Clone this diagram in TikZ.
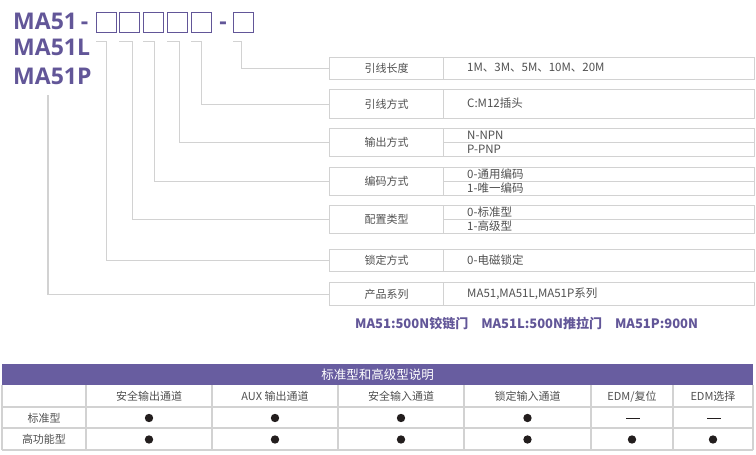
\documentclass[tikz,border=0pt]{standalone}
\usepackage{fontspec}
\setmainfont{Noto Sans CJK SC}
\newfontfamily\osans{Open Sans}
\definecolor{purp}{RGB}{98,86,152}
\definecolor{hdr}{RGB}{104,93,160}
\definecolor{lg}{RGB}{210,210,210}
\definecolor{tg}{RGB}{80,80,80}
\definecolor{dk}{RGB}{35,30,30}
\begin{document}
\begin{tikzpicture}[x=1pt,y=-1pt, font=\fontsize{11}{13}\selectfont,
  lbox/.style={draw=lg, line width=1.1pt, inner sep=0pt, anchor=north west, text=tg, minimum width=114pt},
  rbox/.style={draw=lg, line width=1.1pt, inner sep=0pt, anchor=north west, minimum width=311pt},
  conn/.style={draw=lg, line width=1.1pt},
  sq/.style={draw=purp, line width=1.1pt, minimum width=20pt, minimum height=20pt, inner sep=0pt, anchor=north west},
  val/.style={anchor=west, text=tg, inner sep=0pt, font=\fontsize{11.5}{13}\selectfont},
  ttl/.style={anchor=base west, inner sep=0pt, text=purp, font=\osans\bfseries\fontsize{23}{24}\selectfont},
  cell/.style={inner sep=0pt, text=tg},
  grid/.style={draw=lg, line width=1.2pt},
  dot/.style={fill=dk}]
\useasboundingbox (0,0) rectangle (756,455);
% title
\node[ttl] (t1) at (13,30) {MA51};
\node[ttl, anchor=base] (d1) at (84.5,30) {-};
\node[ttl] (t2) at (13,55) {MA51L};
\node[ttl] (t3) at (13,84) {MA51P};
\node[ttl, anchor=base] (d2) at (223,30) {-};
\node[sq] (s1) at (96,12) {};
\node[sq] (s2) at (119,12) {};
\node[sq] (s3) at (143,12) {};
\node[sq] (s4) at (167,12) {};
\node[sq] (s5) at (191,12) {};
\node[sq] (s6) at (233,12) {};
% boxes
\node[lbox, minimum height=22pt] (b1l) at (329,57) {引线长度};
\node[rbox, minimum height=22pt] (b1r) at (443,57) {};
\node[lbox, minimum height=29pt] (b2l) at (329,89) {引线方式};
\node[rbox, minimum height=29pt] (b2r) at (443,89) {};
\node[lbox, minimum height=28pt] (b3l) at (329,128) {输出方式};
\node[rbox, minimum height=28pt] (b3r) at (443,128) {};
\node[lbox, minimum height=28pt] (b4l) at (329,167) {编码方式};
\node[rbox, minimum height=28pt] (b4r) at (443,167) {};
\node[lbox, minimum height=28pt] (b5l) at (329,205) {配置类型};
\node[rbox, minimum height=28pt] (b5r) at (443,205) {};
\node[lbox, minimum height=22pt] (b6l) at (329,249) {锁定方式};
\node[rbox, minimum height=22pt] (b6r) at (443,249) {};
\node[lbox, minimum height=23pt] (b7l) at (329,282) {产品系列};
\node[rbox, minimum height=23pt] (b7r) at (443,282) {};
\draw[conn] (b3r.west) -- (b3r.east);
\draw[conn] (b4r.west) -- (b4r.east);
\draw[conn] (b5r.west) -- (b5r.east);
% values
\node[val] (v1) at (467,68) {1M、3M、5M、10M、20M};
\node[val] (v2) at (467,103.5) {C:M12插头};
\node[val] (v3a) at (467,135) {N-NPN};
\node[val] (v3b) at (467,149) {P-PNP};
\node[val] (v4a) at (467,174) {0-通用编码};
\node[val] (v4b) at (467,188) {1-唯一编码};
\node[val] (v5a) at (467,212) {0-标准型};
\node[val] (v5b) at (467,226) {1-高级型};
\node[val] (v6) at (467,260) {0-电磁锁定};
\node[val] (v7) at (467,293.5) {MA51,MA51L,MA51P系列};
% connectors
\draw[conn] ([yshift=-8pt]s1.south west) -- ([yshift=-8pt]s1.south) |- (b6l.west);
\draw[conn] ([yshift=-8pt]s2.south west) -- ([xshift=3pt,yshift=-8pt]s2.south) |- (b5l.west);
\draw[conn] ([yshift=-8pt]s3.south west) -- ([xshift=1pt,yshift=-8pt]s3.south) |- (b4l.west);
\draw[conn] ([yshift=-8pt]s4.south west) -- ([xshift=2pt,yshift=-8pt]s4.south) |- (b3l.west);
\draw[conn] ([yshift=-8pt]s5.south west) -- ([yshift=-8pt]s5.south) |- (b2l.west);
\draw[conn] ([yshift=-8pt]s6.south west) -- ([xshift=-2pt,yshift=-8pt]s6.south) |- (b1l.west);
\coordinate (c7) at (48,95);
\draw[conn] (c7) |- (b7l.west);
% note
\node[anchor=base west, inner sep=0pt, text=purp, font=\bfseries\fontsize{13}{14}\selectfont] (note) at (355,328) {MA51:500N铰链门\quad MA51L:500N推拉门\quad MA51P:900N};
% table
\node[fill=hdr, minimum width=751pt, minimum height=21pt, anchor=north west, inner sep=0pt] (hd) at (2,364) {};
\node[text=white, font=\fontsize{12.5}{14}\selectfont, inner sep=0pt] (hdt) at (hd.center) {标准型和高级型说明};
\foreach \yy in {407,428,450} \draw[grid] (2,\yy) -- (753,\yy);
\foreach \xx in {2,86,212,338,464,591,673,753} \draw[grid] (\xx,385) -- (\xx,450);
\node[cell] (h2) at (149,396.5) {安全输出通道};
\node[cell] (h3) at (275,396.5) {AUX 输出通道};
\node[cell] (h4) at (401,396.5) {安全输入通道};
\node[cell] (h5) at (527.5,396.5) {锁定输入通道};
\node[cell] (h6) at (632,396.5) {EDM/复位};
\node[cell] (h7) at (713,396.5) {EDM选择};
\node[cell] (r1) at (44,418) {标准型};
\node[cell] (r2) at (44,439.5) {高功能型};
\foreach \xx in {149,275,401,527.5} {
  \fill[dot] (\xx,418) circle (4.2pt);
  \fill[dot] (\xx,439.5) circle (4.2pt);
}
\fill[dot] (632,439.5) circle (4.2pt);
\fill[dot] (713,439.5) circle (4.2pt);
\draw[dk, line width=0.8pt] (626,418.5) -- (640,418.5);
\draw[dk, line width=0.8pt] (707,418.5) -- (721,418.5);
\end{tikzpicture}
\end{document}
